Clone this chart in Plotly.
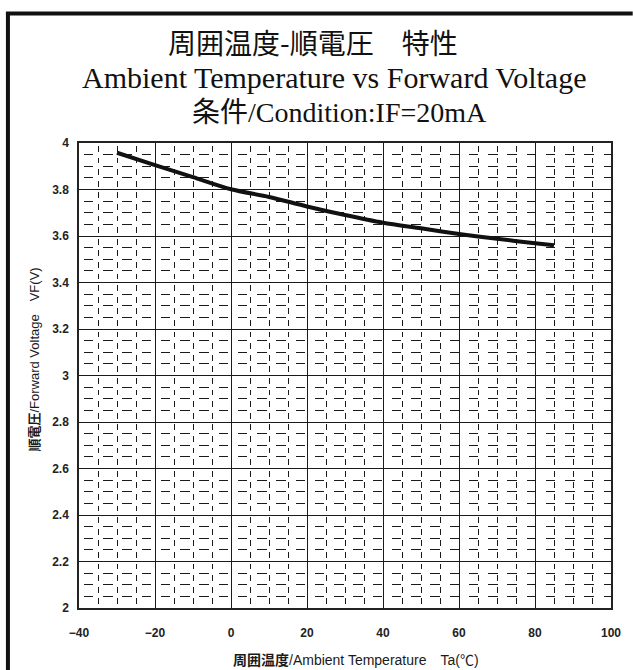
import plotly.graph_objects as go

# Forward voltage vs ambient temperature at IF = 20 mA
temperature_c = [-30, -20, -10, 0, 10, 20, 30, 40, 50, 60, 70, 80, 85]
forward_voltage_v = [3.958, 3.905, 3.853, 3.801, 3.768, 3.727, 3.690, 3.657,
                     3.633, 3.609, 3.588, 3.569, 3.560]

x_ticks = [-40, -20, 0, 20, 40, 60, 80, 100]
y_ticks = [2, 2.2, 2.4, 2.6, 2.8, 3, 3.2, 3.4, 3.6, 3.8, 4]
y_tick_text = ["2", "2.2", "2.4", "2.6", "2.8", "3", "3.2", "3.4", "3.6", "3.8", "4"]

W, H = 633, 670
L, R, T, B = 79, 15, 143, 62
plot_w = W - L - R
plot_h = H - T - B


def px_x(p):
    return (p - L) / plot_w


def px_y(p):
    return (H - B - p) / plot_h


fig = go.Figure()
fig.add_trace(go.Scatter(
    x=temperature_c, y=forward_voltage_v, mode="lines",
    line=dict(color="#111111", width=4, shape="spline", smoothing=0.8),
    showlegend=False, hoverinfo="x+y",
))

grid_col = "#1a1a1a"
tick_font = dict(family="Liberation Sans, Arial, sans-serif", size=12,
                 color="#222222", weight="bold")

fig.update_xaxes(
    range=[-40, 100], tickvals=x_ticks, ticks="", showline=True, mirror=True,
    linecolor="#222222", linewidth=1.5, showgrid=True, gridcolor=grid_col,
    gridwidth=1, zeroline=False, tickfont=tick_font, ticklabelstandoff=13,
    minor=dict(dtick=5, showgrid=True, gridcolor=grid_col, gridwidth=1.2,
               griddash="0px,2.9px,5.8px,2.9px"),
)
fig.update_yaxes(
    range=[2, 4], tickvals=y_ticks, ticktext=y_tick_text, ticks="", showline=True,
    mirror=True, linecolor="#222222", linewidth=1.5, showgrid=True,
    gridcolor=grid_col, gridwidth=1, zeroline=False, tickfont=tick_font,
    ticklabelstandoff=6,
    minor=dict(dtick=0.05, showgrid=True, gridcolor=grid_col, gridwidth=1.2,
               griddash="0px,4.8px,9.6px,4.85px"),
)

annotations = [
    dict(text="周囲温度-順電圧　特性", x=px_x(316), y=px_y(42),
         font=dict(family="Noto Sans CJK JP", size=28, color="#111111")),
    dict(text="Ambient Temperature vs Forward Voltage", x=px_x(337), y=px_y(78),
         font=dict(family="Liberation Serif, Times New Roman, serif", size=30,
                   color="#111111")),
    dict(text="条件/Condition:IF=20mA", x=px_x(343), y=px_y(112),
         font=dict(family="Liberation Serif, Noto Sans CJK JP, serif", size=28,
                   color="#111111")),
    dict(text="<b>周囲温度</b>/Ambient Temperature　Ta(℃)", x=px_x(360), y=px_y(660),
         font=dict(family="Liberation Sans, Noto Sans CJK JP, sans-serif", size=14,
                   color="#1a1a1a")),
    dict(text="<b>順電圧</b>/Forward Voltage　VF(V)", x=px_x(33), y=px_y(360),
         textangle=-90,
         font=dict(family="Liberation Sans, Noto Sans CJK JP, sans-serif", size=13,
                   color="#1a1a1a")),
]
for a in annotations:
    a.update(xref="paper", yref="paper", showarrow=False,
             xanchor="center", yanchor="middle")

# Outer frame (left and top edges)
frame = dict(type="line", xref="paper", yref="paper",
             line=dict(color="#111111", width=4))
shapes = [
    dict(frame, x0=px_x(7), x1=px_x(7), y0=px_y(12), y1=px_y(672)),
    dict(frame, x0=px_x(5), x1=px_x(640), y0=px_y(13.5), y1=px_y(13.5)),
]

fig.update_layout(
    width=W, height=H, margin=dict(l=L, r=R, t=T, b=B),
    paper_bgcolor="white", plot_bgcolor="white",
    annotations=annotations, shapes=shapes,
)

fig.write_html("out.html")
